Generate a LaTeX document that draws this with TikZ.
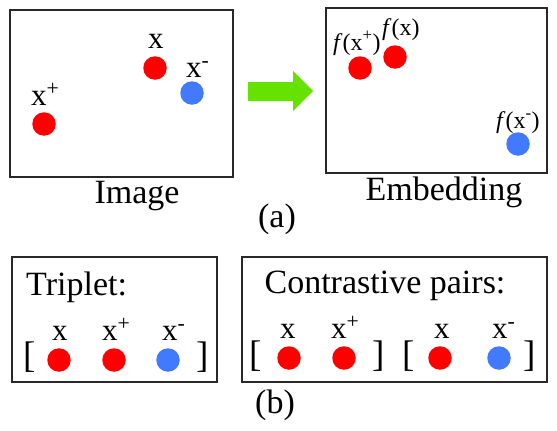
\documentclass[tikz,border=0pt]{standalone}
\usepackage{fontspec}
\setmainfont{Liberation Serif}
\definecolor{dotred}{RGB}{255,0,0}
\definecolor{dotblue}{RGB}{66,122,255}
\definecolor{arrgreen}{RGB}{102,226,0}
\definecolor{frame}{RGB}{40,40,40}
\begin{document}
\begin{tikzpicture}[x=1pt,y=-1pt,
  panel/.style={draw=frame,line width=1.2pt,inner sep=0pt,outer sep=0pt},
  rdot/.style={circle,fill=dotred,minimum size=23.5pt,inner sep=0pt},
  bdot/.style={circle,fill=dotblue,minimum size=23.5pt,inner sep=0pt},
  big/.style={inner sep=0pt,anchor=base,font=\fontsize{34}{40}\selectfont},
  lab/.style={inner sep=0pt,anchor=base west,font=\fontsize{31}{36}\selectfont},
  flab/.style={inner sep=0pt,anchor=base west,font=\fontsize{24}{28}\selectfont},
  brk/.style={inner sep=0pt,anchor=base west,font=\fontsize{37}{40}\selectfont}]
\useasboundingbox (0,0) rectangle (557,431);
% (a) panels
\node[panel,minimum width=223pt,minimum height=167pt] (imgbox) at (121.5,93.5) {};
\node[panel,minimum width=221pt,minimum height=165pt] (embbox) at (436.5,90.5) {};
% image dots
\node[rdot] (ix) at (155,68) {};
\node[rdot] (ixp) at (44,124) {};
\node[bdot] (ixm) at (192,93) {};
\node[lab] (lix) at (148,48) {x};
\node[lab] (lixp) at (31,105) {x\textsuperscript{+}};
\node[lab] (lixm) at (186,77) {x\textsuperscript{-}};
\node[big] (limg) at (137,203) {Image};
% arrow
\fill[arrgreen] (248,82) -- (293,82) -- (293,71) -- (313,91) -- (293,111) -- (293,101) -- (248,101) -- cycle;
% embedding dots
\node[rdot] (ex) at (395,57) {};
\node[rdot] (exp) at (360,68) {};
\node[bdot] (exm) at (518,144) {};
\node[flab] (lexp) at (333,50) {\textit{f}(x\textsuperscript{+})};
\node[flab] (lex) at (382,35) {\textit{f}(x)};
\node[flab] (lexm) at (496,128) {\textit{f}(x\textsuperscript{-})};
\node[big] (lemb) at (444,200) {Embedding};
\node[big] (la) at (277,227) {(a)};
% (b) panels
\node[panel,minimum width=205pt,minimum height=125pt] (tribox) at (114.5,319.5) {};
\node[panel,minimum width=305pt,minimum height=125pt] (conbox) at (394.5,319.5) {};
\node[big,anchor=base west] (ltri) at (26,295) {Triplet:};
\node[big] (lcon) at (385,293) {Contrastive pairs:};
% triplet
\node[brk] (tb1) at (23,367) {[};
\node[brk] (tb2) at (196,367) {]};
\node[rdot] (tx) at (59,360) {};
\node[rdot] (txp) at (114,360) {};
\node[bdot] (txm) at (168,360) {};
\node[lab] (ltx) at (52,340) {x};
\node[lab] (ltxp) at (102,340) {x\textsuperscript{+}};
\node[lab] (ltxm) at (162,340) {x\textsuperscript{-}};
% contrastive
\node[brk] (cb1) at (249,366) {[};
\node[brk] (cb2) at (372,366) {]};
\node[brk] (cb3) at (402,366) {[};
\node[brk] (cb4) at (523,366) {]};
\node[rdot] (cx1) at (289,358) {};
\node[rdot] (cxp) at (344,358) {};
\node[rdot] (cx2) at (440,358) {};
\node[bdot] (cxm) at (499,358) {};
\node[lab] (lcx1) at (280,338) {x};
\node[lab] (lcxp) at (331,338) {x\textsuperscript{+}};
\node[lab] (lcx2) at (434,338) {x};
\node[lab] (lcxm) at (492,338) {x\textsuperscript{-}};
\node[big] (lb) at (275,413) {(b)};
\end{tikzpicture}
\end{document}
